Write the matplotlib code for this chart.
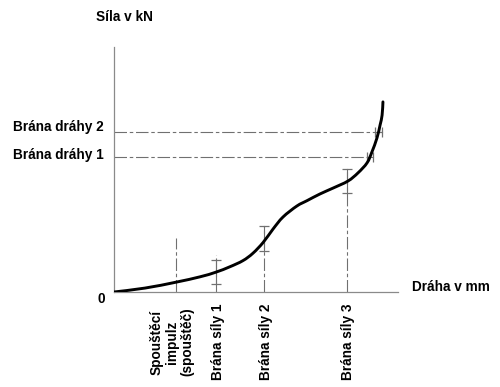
import matplotlib
matplotlib.use("Agg")
import matplotlib.pyplot as plt
from matplotlib.path import Path
from matplotlib.patches import PathPatch

plt.rcParams['font.family'] = ['Liberation Sans', 'DejaVu Sans']
plt.rcParams['font.weight'] = 'bold'
plt.rcParams['lines.scale_dashes'] = False

# ---- data (x: path in % of axis, y: force in % of axis) ----
curve_x = [0, 10.9, 21.8, 30.3, 35.9, 40.8, 45.4, 48.9, 52.5, 56.0, 59.5, 64.4,
           68.0, 72.5, 77.1, 82.4, 85.9, 89.1, 90.8, 92.6, 93.7, 94.4, 94.7]
curve_y = [0, 1.6, 4.0, 6.2, 8.1, 10.3, 12.8, 15.8, 20.2, 25.7, 30.6, 35.1,
           37.3, 40.0, 42.4, 45.3, 48.6, 52.7, 57.1, 62.9, 68.2, 72.2, 77.6]

# vertical force gates: x position, line top, window low, window high
gate_names = ["Spouštěcí\nimpulz\n(spouštěč)", "Brána síly 1", "Brána síly 2", "Brána síly 3"]
gate_x = [21.8, 35.9, 52.9, 82.0]
gate_top = [22.0, 15.1, 26.9, 50.2]
gate_lo = [None, 3.3, 16.7, 40.4]
gate_hi = [None, 13.1, 26.9, 50.2]

# horizontal path gates: y level, window start, window end
path_names = ["Brána dráhy 1", "Brána dráhy 2"]
path_y = [55.1, 65.3]
path_x0 = [89.1, 92.0]
path_x1 = [91.2, 94.4]

W, H = 500, 387
fig = plt.figure(figsize=(W / 100, H / 100), dpi=100)
ax = fig.add_axes([114 / W, (H - 292) / H, 284 / W, 245 / H])
ax.set_xlim(0, 100)
ax.set_ylim(0, 100)
for s in ['top', 'right']:
    ax.spines[s].set_visible(False)
for s in ['left', 'bottom']:
    ax.spines[s].set_color('#8a8a8a')
    ax.spines[s].set_linewidth(0.9)
ax.set_xticks([])
ax.set_yticks([])

dash = (0, (9, 2, 2.5, 2))
gcol = '#707070'

# vertical gates
for gx, gt, lo, hi in zip(gate_x, gate_top, gate_lo, gate_hi):
    ax.plot([gx, gx], [0, gt], color=gcol, lw=0.8, linestyle=dash, zorder=2)
    if lo is not None:
        ax.plot([gx, gx], [lo, hi], color=gcol, lw=0.8, zorder=2)
        ax.plot([gx, gx], [lo, hi], linestyle='none', marker='_', ms=6.5,
                mew=0.9, color=gcol, zorder=2)

# horizontal gates
for py, x0, x1 in zip(path_y, path_x0, path_x1):
    ax.plot([0, x1], [py, py], color=gcol, lw=0.8, linestyle=dash, zorder=2)
    ax.plot([x0, x1], [py, py], color=gcol, lw=0.8, zorder=2)
    ax.plot([x0, x1], [py, py], linestyle='none', marker='|', ms=6.5,
            mew=0.9, color=gcol, zorder=2)

# curve: smooth cubic Bezier path through the read points (Catmull-Rom tangents)
pts = list(zip(curve_x, curve_y))
verts = [pts[0]]
codes = [Path.MOVETO]
n = len(pts)
for i in range(n - 1):
    p0 = pts[i - 1] if i > 0 else pts[i]
    p1 = pts[i]
    p2 = pts[i + 1]
    p3 = pts[i + 2] if i + 2 < n else pts[i + 1]
    c1 = (p1[0] + (p2[0] - p0[0]) / 6, p1[1] + (p2[1] - p0[1]) / 6)
    c2 = (p2[0] - (p3[0] - p1[0]) / 6, p2[1] - (p3[1] - p1[1]) / 6)
    verts += [c1, c2, p2]
    codes += [Path.CURVE4] * 3
ax.add_patch(PathPatch(Path(verts, codes), fill=False, edgecolor='black',
                       lw=2.1, capstyle='round', joinstyle='round', zorder=3))

fs = 9.8
def ftext(px, py, s, **kw):
    fig.text(px / W, 1 - py / H, s, fontsize=fs, fontweight='bold', **kw)

ftext(124, 17, "Síla v kN", ha='center', va='center')
ftext(13, 127, path_names[1], ha='left', va='center')
ftext(13, 155, path_names[0], ha='left', va='center')
ftext(101, 299, "0", ha='center', va='center')
ftext(412, 287, "Dráha v mm", ha='left', va='center')

label_px = [172, 218, 266, 348]
for name, lx in zip(gate_names, label_px):
    ftext(lx, 342, name, ha='center', va='center', rotation=90,
          multialignment='center', linespacing=1.1)

fig.savefig("out.png", dpi=100)
